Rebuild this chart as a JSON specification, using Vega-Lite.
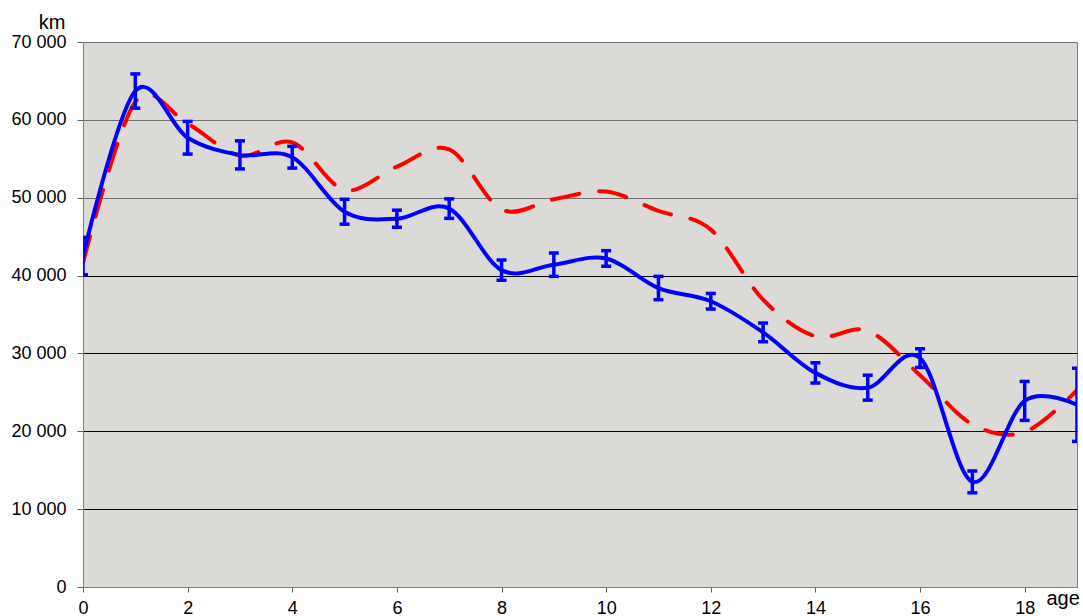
{
  "$schema": "https://vega.github.io/schema/vega-lite/v6.json",
  "width": 994,
  "height": 545,
  "autosize": {"type": "none"},
  "padding": {"left": 83, "top": 42, "right": 6, "bottom": 29},
  "background": "#ffffff",
  "config": {
    "view": {"fill": "#DCDAD6", "stroke": "#808080", "strokeWidth": 1},
    "font": "Liberation Sans",
    "axis": {"labelFont": "Liberation Sans", "titleFont": "Liberation Sans", "labelFontSize": 18, "titleFontSize": 20, "labelColor": "#000000", "titleColor": "#000000", "titleFontWeight": "normal", "domainColor": "#808080", "tickColor": "#606060"}
  },
  "data": {
    "values": [
      {"age": 0, "measured": 42500, "low": 40100, "high": 44900, "reference": 41600},
      {"age": 1, "measured": 63700, "low": 61500, "high": 65900, "reference": 62300},
      {"age": 2, "measured": 57700, "low": 55600, "high": 59800, "reference": 59500},
      {"age": 3, "measured": 55500, "low": 53700, "high": 57300, "reference": 55400},
      {"age": 4, "measured": 55200, "low": 53800, "high": 56600, "reference": 57100},
      {"age": 5, "measured": 48200, "low": 46600, "high": 49800, "reference": 51000},
      {"age": 6, "measured": 47300, "low": 46200, "high": 48400, "reference": 54000},
      {"age": 7, "measured": 48600, "low": 47350, "high": 49850, "reference": 56200},
      {"age": 8, "measured": 40700, "low": 39400, "high": 42000, "reference": 48500},
      {"age": 9, "measured": 41400, "low": 39900, "high": 42900, "reference": 49800},
      {"age": 10, "measured": 42200, "low": 41200, "high": 43200, "reference": 50800},
      {"age": 11, "measured": 38400, "low": 36900, "high": 39900, "reference": 48300},
      {"age": 12, "measured": 36700, "low": 35700, "high": 37700, "reference": 45900},
      {"age": 13, "measured": 32700, "low": 31500, "high": 33900, "reference": 36900},
      {"age": 14, "measured": 27500, "low": 26200, "high": 28800, "reference": 32200},
      {"age": 15, "measured": 25600, "low": 24000, "high": 27200, "reference": 32900},
      {"age": 16, "measured": 29400, "low": 28200, "high": 30600, "reference": 27200},
      {"age": 17, "measured": 13500, "low": 12100, "high": 14900, "reference": 20900},
      {"age": 18, "measured": 23900, "low": 21400, "high": 26400, "reference": 19900},
      {"age": 19, "measured": 23400, "low": 18700, "high": 28100, "reference": 25300}
    ]
  },
  "encoding": {
    "x": {
      "field": "age", "type": "quantitative",
      "scale": {"domain": [0, 19], "nice": false, "zero": false},
      "axis": {"values": [0, 2, 4, 6, 8, 10, 12, 14, 16, 18], "grid": false, "tickSize": 5, "labelPadding": 7, "labelFlush": false, "title": "age", "titleAnchor": null, "titleAlign": "left", "titleAngle": 0, "titleBaseline": "alphabetic", "titleX": 963, "titleY": 17}
    }
  },
  "layer": [
    {
      "mark": {"type": "line", "interpolate": "cardinal", "color": "#FF0000", "strokeWidth": 4, "strokeDash": [28, 20], "strokeCap": "round", "clip": true},
      "encoding": {
        "y": {
          "field": "reference", "type": "quantitative",
          "scale": {"domain": [0, 70000], "nice": false},
          "axis": {
            "values": [0, 10000, 20000, 30000, 40000, 50000, 60000, 70000],
            "grid": true,
            "gridColor": {"condition": {"test": "datum.value >= 50000", "value": "#707070"}, "value": "#000000"},
            "gridWidth": 1,
            "tickSize": 6, "labelPadding": 11,
            "labelExpr": "replace(format(datum.value, ','), ',', ' ')",
            "title": "km", "titleAngle": 0, "titleAlign": "right", "titleBaseline": "alphabetic", "titleX": -18, "titleY": -14
          }
        }
      }
    },
    {
      "mark": {"type": "line", "interpolate": "cardinal", "color": "#0000FF", "strokeWidth": 4, "clip": true},
      "encoding": {"y": {"field": "measured", "type": "quantitative"}}
    },
    {
      "mark": {"type": "rule", "color": "#0000FF", "strokeWidth": 3.5, "clip": true},
      "encoding": {"y": {"field": "low", "type": "quantitative"}, "y2": {"field": "high"}}
    },
    {
      "mark": {"type": "tick", "color": "#0000FF", "orient": "horizontal", "size": 10, "thickness": 3.5, "opacity": 1, "clip": true},
      "encoding": {"y": {"field": "low", "type": "quantitative"}}
    },
    {
      "mark": {"type": "tick", "color": "#0000FF", "orient": "horizontal", "size": 10, "thickness": 3.5, "opacity": 1, "clip": true},
      "encoding": {"y": {"field": "high", "type": "quantitative"}}
    }
  ]
}
